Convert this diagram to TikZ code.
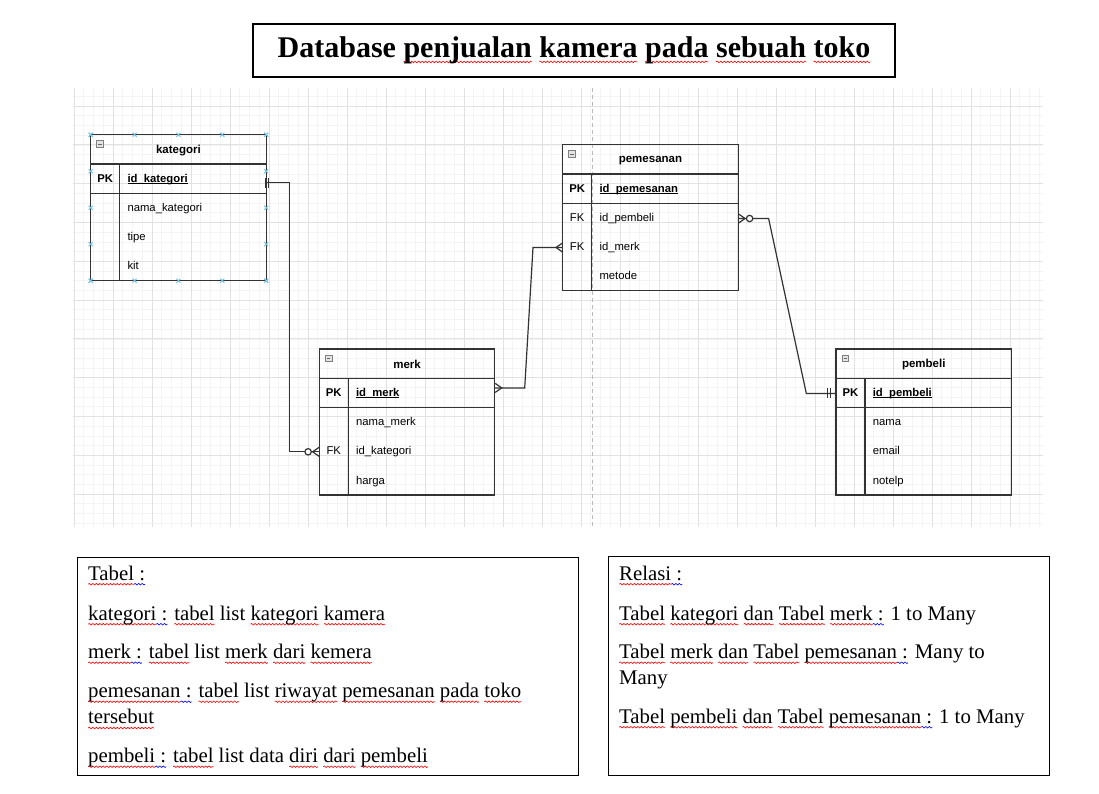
\documentclass[tikz,border=0pt]{standalone}
\usepackage{fontspec}
\setmainfont{Liberation Serif}
\setsansfont{Liberation Sans}
\usepackage{xcolor}
\usetikzlibrary{decorations.pathmorphing}

\newlength\sqwd
\newcommand\sqline[2]{\settowidth\sqwd{#2}\rlap{\tikz[overlay]\draw[#1,line width=0.6pt,
  decorate,decoration={snake,amplitude=0.8pt,segment length=3.5pt}]
  (0pt,-4.2pt) -- (\sqwd,-4.2pt);}#2}
\newcommand\redsq[1]{\sqline{red}{#1}}
\newcommand\bluesq[1]{\sqline{blue}{#1}}
\newlength\pkwd
\newcommand\pkline[1]{\settowidth\pkwd{#1}\rlap{\raisebox{-1.8pt}[0pt][0pt]{\rule{\pkwd}{0.8pt}}}#1}

\begin{document}
\begin{tikzpicture}[x=1pt,y=-1pt,
  erline/.style={draw=erdark,line width=1.2pt},
  minorln/.style={draw=gridlight,line width=0.6pt},
  majorln/.style={draw=gridmid,line width=0.9pt},
  midline/.style={draw=gridmid!60!gray,line width=0.9pt,dash pattern=on 4pt off 3pt},
  handle/.style={draw=handleblue,line width=0.9pt},
  headtxt/.style={font=\sffamily\bfseries\fontsize{11.5}{13}\selectfont,inner sep=0pt},
  keytxt/.style={font=\sffamily\fontsize{11.3}{13}\selectfont,text width=29pt,align=center,
    inner xsep=0pt,inner ysep=0pt,text height=8.2pt,text depth=2.4pt},
  rowtxt/.style={font=\sffamily\fontsize{11.3}{13}\selectfont,anchor=west,text width=131.3pt,
    align=left,inner xsep=7.6pt,inner ysep=0pt,text height=8.2pt,text depth=2.4pt},
  titlebox/.style={draw=black,line width=1.3pt,minimum width=642pt,minimum height=53pt,
    inner sep=0pt,font=\fontsize{30}{36}\selectfont},
  notebox/.style={draw=black,line width=1pt,inner sep=0pt},
  notetxt/.style={font=\fontsize{20.8}{26.3}\selectfont,anchor=base west,inner sep=0pt},
  many/.pic={\draw[erline] (0,-4.5) -- (6.5,0) -- (0,4.5);},
  zmany/.pic={\draw[erline] (0,-4.5) -- (6.5,0) -- (0,4.5);
    \draw[erline,fill=white] (11,0) circle (3.2);},
  mone/.pic={\draw[erline] (5,-5) -- (5,5) (8,-5) -- (8,5);},
  hdl/.pic={\draw[handle] (-2,-2) -- (2,2) (-2,2) -- (2,-2);}]
\definecolor{erdark}{HTML}{333333}
\definecolor{gridlight}{HTML}{F4F4F4}
\definecolor{gridmid}{HTML}{E2E2E2}
\definecolor{handleblue}{HTML}{6EC3E6}
\definecolor{iconfill}{HTML}{E3E3E3}
\useasboundingbox (0,0) rectangle (1099,793);

\node[titlebox] (title) at (574,50.5) {\textbf{Database \redsq{penjualan} \redsq{kamera}
  \redsq{pada} \redsq{sebuah} \redsq{toko}}};

\foreach \i in {0,...,99} \draw[minorln] ({74+9.75*\i},88) -- ({74+9.75*\i},527);
\foreach \j in {0,...,44} \draw[minorln] (73,{96.3+9.7*\j}) -- (1043,{96.3+9.7*\j});
\foreach \i in {0,...,24} \draw[majorln] ({74+39*\i},88) -- ({74+39*\i},527);
\foreach \j in {0,...,10} \draw[majorln] (73,{106+38.8*\j}) -- (1043,{106+38.8*\j});
\draw[midline] (592,88) -- (592,527);

\foreach \tb/\xx/\yy/\pk/\ra/\rb/\rc/\ka/\kb/\kc in
  {kategori/90.7/134.7/id\_kategori/nama\_kategori/tipe/kit/{}/{}/{},
   merk/319.3/349/id\_merk/nama\_merk/id\_kategori/harga/{}/FK/{},
   pemesanan/562.7/144.7/id\_pemesanan/id\_pembeli/id\_merk/metode/FK/FK/{},
   pembeli/836/349/id\_pembeli/nama/email/notelp/{}/{}/{}}
{ \begin{scope}[shift={(\xx,\yy)}]
  \draw[erline] (0,0) rectangle (175.5,146);
  \draw[erline] (0,29.3) -- (175.5,29.3) (0,58.5) -- (175.5,58.5) (29,29.3) -- (29,146);
  \draw[draw=gray,fill=iconfill,line width=0.6pt] (6,6) rectangle (12.5,12.5);
  \draw[draw=gray!80!black,line width=0.8pt] (7.5,9.25) -- (11,9.25);
  \node[headtxt] (\tb-head) at (87.75,15.8) {\tb};
  \node[keytxt] (\tb-k0) at (14.5,44.4) {\bfseries PK};
  \node[rowtxt] (\tb-pk) at (29,44.4) {\bfseries\pkline{\pk}};
  \foreach \n/\yr/\rr/\kk in {1/73.8/\ra/\ka,2/102.8/\rb/\kb,3/132.1/\rc/\kc}
  { \node[keytxt] (\tb-k\n) at (14.5,\yr) {\kk};
    \node[rowtxt] (\tb-r\n) at (29,\yr) {\rr}; }
  \end{scope}}

\begin{scope}[shift={(90.7,134.7)}]
\foreach \q in {0,0.25,0.5,0.75,1}
  { \pic at ({175.5*\q},0) {hdl}; \pic at ({175.5*\q},146) {hdl};
    \pic at (0,{146*\q}) {hdl}; \pic at (175.5,{146*\q}) {hdl}; }
\end{scope}

\coordinate (katpk) at ([yshift=-3.7pt]kategori-pk.east);
\coordinate (merkpk) at ([yshift=5.5pt]merk-pk.east);
\draw[erline] (katpk) -| ([xshift=-29.5pt]merk-k2.west) -- (merk-k2.west);
\draw[erline] (merkpk) -- ++(29.5,0) -- ([xshift=-29.5pt]pemesanan-k2.west) -- (pemesanan-k2.west);
\draw[erline] (pemesanan-r1.east) -- ++(30,0) -- ([xshift=-29.5pt]pembeli-k0.west) -- (pembeli-k0.west);
\pic at ([xshift=-6pt]katpk) {mone};
\pic[rotate=180] at (merk-k2.west) {zmany};
\pic at (merkpk) {many};
\pic[rotate=180] at (pemesanan-k2.west) {many};
\pic at (pemesanan-r1.east) {zmany};
\pic[rotate=180] at (pembeli-k0.west) {mone};

\node[notebox,minimum width=501pt,minimum height=218pt] (tabelbox) at (327.5,666) {};
\node[notebox,minimum width=441pt,minimum height=219pt] (relasibox) at (828.8,666) {};

\node[notetxt] (tb0) at (88,580) {\redsq{Tabel}\bluesq{ :}};
\node[notetxt] (tb1) at (88,620) {\redsq{kategori}\bluesq{ :} \redsq{tabel} list
  \redsq{kategori} \redsq{kamera}};
\node[notetxt] (tb2) at (88,658.5) {\redsq{merk}\bluesq{ :} \redsq{tabel} list \redsq{merk}
  \redsq{dari} \redsq{kemera}};
\node[notetxt] (tb3) at (88,697.5) {\redsq{pemesanan}\bluesq{ :} \redsq{tabel} list
  \redsq{riwayat} \redsq{pemesanan} \redsq{pada} \redsq{toko}};
\node[notetxt] (tb3b) at (88,723.8) {\redsq{tersebut}};
\node[notetxt] (tb4) at (88,762.5) {\redsq{pembeli}\bluesq{ :} \redsq{tabel} list data
  \redsq{diri} \redsq{dari} \redsq{pembeli}};

\node[notetxt] (rl0) at (619,580) {\redsq{Relasi}\bluesq{ :}};
\node[notetxt] (rl1) at (619,620) {\redsq{Tabel} \redsq{kategori} \redsq{dan} \redsq{Tabel}
  \redsq{merk}\bluesq{ :} 1 to Many};
\node[notetxt] (rl2) at (619,658.5) {\redsq{Tabel} \redsq{merk} \redsq{dan} \redsq{Tabel}
  \redsq{pemesanan}\bluesq{ :} Many to};
\node[notetxt] (rl2b) at (619,684.8) {Many};
\node[notetxt] (rl3) at (619,723) {\redsq{Tabel} \redsq{pembeli} \redsq{dan} \redsq{Tabel}
  \redsq{pemesanan}\bluesq{ :} 1 to Many};
\end{tikzpicture}
\end{document}
